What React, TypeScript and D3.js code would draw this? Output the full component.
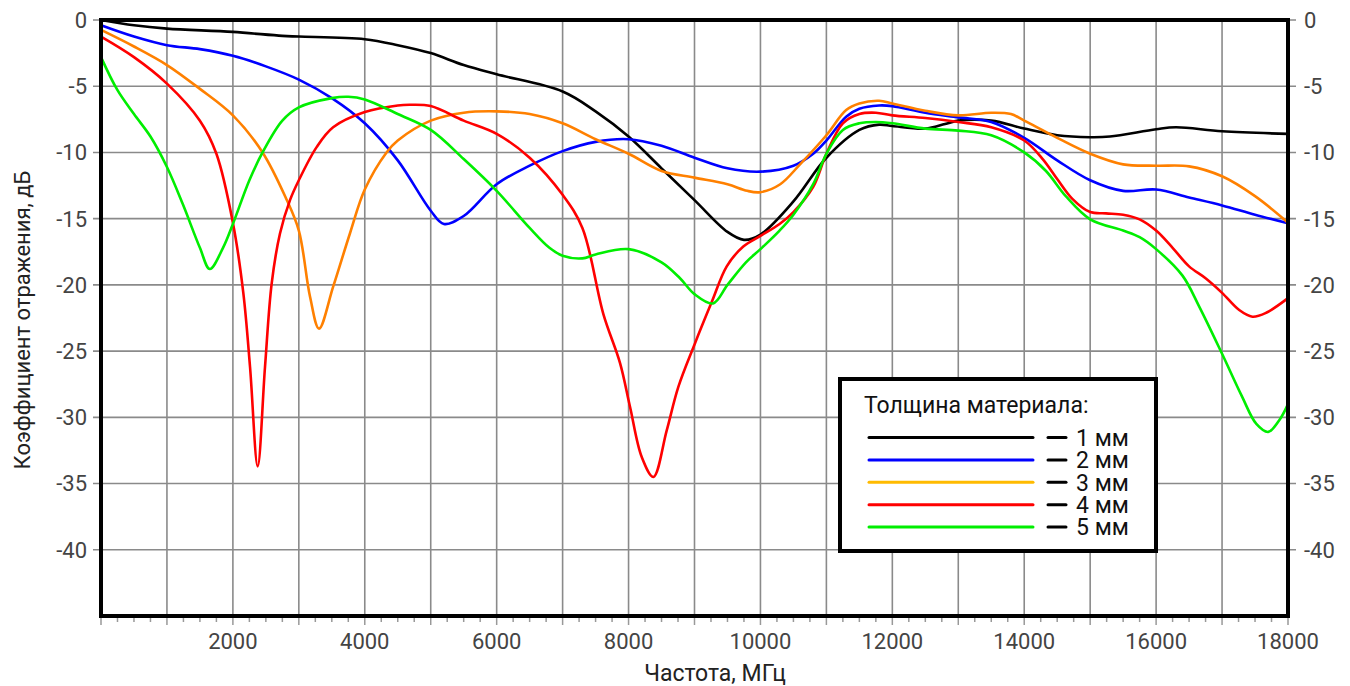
import React from "react";
import * as d3 from "d3";

const xTickLabels = [2000, 4000, 6000, 8000, 10000, 12000, 14000, 16000, 18000];
const yTickLabels = [0, -5, -10, -15, -20, -25, -30, -35, -40];
const legendTitle = "Толщина материала:";
const seriesNames = ["1 мм", "2 мм", "3 мм", "4 мм", "5 мм"];

const f1 = [0, 500, 1000, 2000, 2750, 3000, 4000, 4500, 5000, 5500, 6000, 7000, 7500, 8000, 8500, 9000, 9500, 9750, 10000, 10500, 11000, 11500, 11800, 12000, 12500, 12800, 13000, 13500, 14000, 14500, 15000, 15300, 16000, 16300, 17000, 18000];
const v1 = [0, -0.4, -0.65, -0.9, -1.2, -1.25, -1.45, -1.9, -2.5, -3.4, -4.1, -5.4, -6.9, -8.8, -11.2, -13.6, -16.0, -16.6, -16.2, -13.7, -10.4, -8.3, -7.9, -8.0, -8.2, -7.85, -7.6, -7.6, -8.2, -8.7, -8.85, -8.8, -8.25, -8.1, -8.4, -8.6];

const f2 = [0, 500, 1000, 1500, 2000, 2500, 3000, 3500, 4000, 4500, 5000, 5200, 5500, 6000, 6500, 7000, 7500, 8000, 8500, 9000, 9500, 10000, 10500, 10800, 11000, 11300, 11500, 11800, 12000, 12500, 13000, 13500, 14000, 14500, 15000, 15500, 16000, 16500, 17000, 17500, 18000];
const v2 = [-0.4, -1.25, -1.9, -2.2, -2.7, -3.5, -4.5, -5.9, -7.8, -10.6, -14.4, -15.4, -14.8, -12.4, -11.0, -9.9, -9.2, -9.0, -9.5, -10.4, -11.2, -11.45, -11.0, -10.1, -9.1, -7.3, -6.7, -6.45, -6.5, -7.0, -7.35, -7.7, -8.9, -10.6, -12.1, -12.9, -12.8, -13.4, -14.0, -14.7, -15.35];

const f3 = [0, 500, 1000, 1500, 2000, 2450, 2800, 3000, 3170, 3306, 3523, 3776, 4000, 4330, 4500, 5000, 5500, 6000, 6500, 7000, 7500, 8000, 8500, 9000, 9500, 9800, 10000, 10300, 10600, 11000, 11300, 11500, 11800, 12000, 12500, 13000, 13500, 13800, 14000, 14500, 15000, 15500, 16000, 16500, 17000, 17500, 18000];
const v3 = [-0.75, -2.0, -3.4, -5.2, -7.2, -10.0, -13.4, -15.9, -20.9, -23.3, -20.1, -16.1, -12.8, -10.0, -9.1, -7.6, -7.0, -6.9, -7.1, -7.8, -9.0, -10.1, -11.4, -11.9, -12.4, -12.9, -13.0, -12.4, -10.9, -8.7, -6.8, -6.3, -6.1, -6.3, -6.85, -7.2, -7.0, -7.1, -7.6, -8.9, -10.1, -10.9, -11.0, -11.05, -11.8, -13.3, -15.3];

const f4 = [0, 500, 1000, 1500, 1750, 2000, 2158, 2260, 2376, 2487, 2588, 2715, 2866, 3000, 3270, 3520, 4000, 4500, 4690, 5000, 5500, 6000, 6500, 7000, 7300, 7618, 7871, 8022, 8200, 8376, 8578, 8755, 9008, 9261, 9489, 9740, 10000, 10290, 10500, 10800, 11000, 11250, 11500, 11750, 12000, 12500, 13000, 13500, 14000, 14280, 14500, 14730, 15000, 15240, 15500, 15750, 16000, 16250, 16500, 16750, 17000, 17260, 17460, 17670, 18000];
const v4 = [-1.25, -2.8, -4.8, -7.6, -10.1, -15.3, -20.6, -26.2, -33.7, -26.2, -19.9, -16.1, -13.6, -12.1, -9.6, -8.1, -6.95, -6.45, -6.4, -6.5, -7.6, -8.6, -10.4, -13.2, -15.7, -22.2, -25.9, -29.2, -33.0, -34.5, -31.0, -27.7, -24.4, -21.3, -18.6, -17.1, -16.3, -15.4, -14.5, -12.6, -10.1, -7.8, -7.1, -7.0, -7.2, -7.4, -7.7, -8.1, -9.1, -10.5, -12.0, -13.5, -14.5, -14.6, -14.7, -15.05, -15.9, -17.2, -18.6, -19.5, -20.6, -21.9, -22.4, -22.1, -21.0];

const f5 = [0, 250, 500, 750, 1000, 1240, 1500, 1650, 1850, 2000, 2250, 2450, 2750, 3000, 3500, 3750, 4000, 4500, 5000, 5500, 6000, 6500, 6800, 7000, 7300, 7500, 8000, 8500, 8780, 9000, 9280, 9500, 9780, 10000, 10290, 10500, 10800, 11000, 11250, 11500, 11750, 12000, 12500, 13000, 13500, 14000, 14330, 14630, 15000, 15500, 15750, 16000, 16400, 16650, 17000, 17300, 17520, 17700, 17870, 18000];
const v5 = [-2.8, -5.3, -7.1, -8.8, -11.1, -13.9, -17.2, -18.8, -17.2, -15.4, -12.1, -10.0, -7.6, -6.6, -5.9, -5.8, -6.0, -7.1, -8.3, -10.5, -12.9, -15.7, -17.2, -17.8, -18.0, -17.7, -17.3, -18.3, -19.5, -20.7, -21.4, -20.0, -18.3, -17.3, -15.9, -14.7, -12.4, -10.1, -8.3, -7.8, -7.7, -7.8, -8.2, -8.35, -8.7, -10.0, -11.4, -13.3, -15.05, -15.9, -16.4, -17.3, -19.3, -21.6, -25.2, -28.4, -30.5, -31.1, -30.2, -29.0];

const seriesFreqs = [f1, f2, f3, f4, f5];
const seriesValues = [v1, v2, v3, v4, v5];
const lineColors = ["#000000", "#0000ff", "#ff8000", "#ff0000", "#00ee00"];
const legendColors = ["#000000", "#0000ff", "#ffbb00", "#ff0000", "#00ee00"];

const W = 1350;
const H = 686;
const L = 101, R = 1288, T = 20, B = 616;
const FONT = "Roboto, 'Noto Sans', sans-serif";

export default function App() {
  const x = d3.scaleLinear().domain([0, 18000]).range([L, R]);
  const y = d3.scaleLinear().domain([-45, 0]).range([B, T]);
  const line = d3
    .line<[number, number]>()
    .x((d) => x(d[0]))
    .y((d) => y(d[1]))
    .curve(d3.curveCatmullRom.alpha(0.5));

  const vGrid = d3.range(1000, 18000, 1000);
  const hGrid = d3.range(-40, 0.1, 5);
  const minor = d3.range(0, 18001, 250);

  const lgX = 840, lgY = 379, lgW = 316, lgH = 172;

  return (
    <svg width={W} height={H} style={{ position: "absolute", left: 0, top: 0, background: "#fff" }} fontFamily={FONT}>
      <rect x={0} y={0} width={W} height={H} fill="#fff" />
      {vGrid.map((v) => (
        <line key={"v" + v} x1={x(v)} x2={x(v)} y1={T} y2={B} stroke="#8a8a8a" strokeWidth={1.6} />
      ))}
      {hGrid.map((v) => (
        <line key={"h" + v} x1={L - 8} x2={R + 8} y1={y(v)} y2={y(v)} stroke="#8a8a8a" strokeWidth={1.6} />
      ))}
      {minor.map((v) => (
        <line key={"m" + v} x1={x(v)} x2={x(v)} y1={B} y2={B + (v % 1000 === 0 ? 9 : 6)} stroke="#999" strokeWidth={1.5} />
      ))}
      {seriesFreqs.map((fs, i) => (
        <path
          key={"s" + i}
          d={line(fs.map((f, j) => [f, seriesValues[i][j]] as [number, number])) || ""}
          fill="none"
          stroke={lineColors[i]}
          strokeWidth={2.6}
          strokeLinejoin="round"
        />
      ))}
      <rect x={L} y={T} width={R - L} height={B - T} fill="none" stroke="#000" strokeWidth={4} />
      {yTickLabels.map((v) => (
        <g key={"yl" + v}>
          <text x={L - 14} y={y(v)} dy="0.36em" textAnchor="end" fontSize={22} fill="#444">
            {v}
          </text>
          <text x={R + 16} y={y(v)} dy="0.36em" textAnchor="start" fontSize={22} fill="#444">
            {v}
          </text>
        </g>
      ))}
      {xTickLabels.map((v) => (
        <text key={"xl" + v} x={x(v)} y={B + 25} dy="0.36em" textAnchor="middle" fontSize={22} fill="#444">
          {v}
        </text>
      ))}
      <text x={715} y={673} dy="0.36em" textAnchor="middle" fontSize={23} fill="#222">
        Частота, МГц
      </text>
      <text
        transform={`translate(22, ${(T + B) / 2 + 2}) rotate(-90)`}
        textAnchor="middle"
        dy="0.36em"
        fontSize={22}
        fill="#222"
      >
        Коэффициент отражения, дБ
      </text>
      <g>
        <rect x={lgX} y={lgY} width={lgW} height={lgH} fill="#fff" stroke="#000" strokeWidth={4} />
        <text x={864} y={405} dy="0.36em" fontSize={23} fill="#111">
          {legendTitle}
        </text>
        {seriesNames.map((n, i) => {
          const yy = 437.5 + i * 22.4;
          return (
            <g key={"lg" + i}>
              <line x1={869} x2={1033} y1={yy} y2={yy} stroke={legendColors[i]} strokeWidth={3} strokeLinecap="round" />
              <line x1={1048} x2={1066} y1={yy} y2={yy} stroke="#000" strokeWidth={3} strokeLinecap="round" />
              <text x={1076} y={yy} dy="0.36em" fontSize={23} fill="#111">
                {n}
              </text>
            </g>
          );
        })}
      </g>
    </svg>
  );
}
